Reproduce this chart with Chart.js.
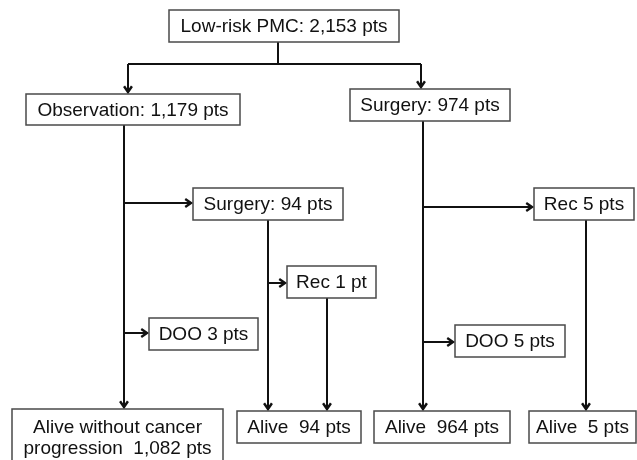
<!DOCTYPE html>
<html>
<head>
<meta charset="utf-8">
<script src="https://cdn.jsdelivr.net/npm/chart.js@4/dist/chart.umd.min.js"></script>
<style>
html,body{margin:0;padding:0;background:#fff;}
#c{display:block;}
</style>
</head>
<body>
<canvas id="c" width="637" height="460"></canvas>
<script>
// ---- data ----
const nodeLabels = [
  ['Low-risk PMC: 2,153 pts'],
  ['Observation: 1,179 pts'],
  ['Surgery: 974 pts'],
  ['Surgery: 94 pts'],
  ['Rec 5 pts'],
  ['Rec 1 pt'],
  ['DOO 3 pts'],
  ['DOO 5 pts'],
  ['Alive without cancer', 'progression  1,082 pts'],
  ['Alive  94 pts'],
  ['Alive  964 pts'],
  ['Alive  5 pts']
];
const nodeCounts = [2153, 1179, 974, 94, 5, 1, 3, 5, 1082, 94, 964, 5];

// ---- layout (in scale units of a hidden 0..637 x 0..460 plane) ----
const boxX1 = [169, 26, 350, 193, 534, 287, 149, 455, 12, 237, 374, 529];
const boxY1 = [10, 94, 89, 188, 188, 266, 318, 325, 409, 411, 411, 411];
const boxX2 = [399, 240, 510, 343, 634, 376, 258, 565, 223, 361, 510, 636];
const boxY2 = [42, 125, 121, 220, 220, 298, 350, 357, 470, 443, 443, 443];

// connectors: [x1,y1,x2,y2,arrow]
const links = [
  [278, 42, 278, 64, 0],
  [128, 64, 421, 64, 0],
  [128, 64, 128, 92, 1],
  [421, 64, 421, 87, 1],
  [124, 125, 124, 407, 1],
  [124, 203, 191, 203, 1],
  [124, 333, 147, 333, 1],
  [268, 220, 268, 409, 1],
  [268, 283, 285, 283, 1],
  [327, 298, 327, 409, 1],
  [423, 121, 423, 409, 1],
  [423, 207, 532, 207, 1],
  [423, 342, 453, 342, 1],
  [586, 220, 586, 409, 1]
];

const flowPlugin = {
  id: 'flow',
  afterDatasetsDraw(chart) {
    const ctx = chart.ctx;
    const xs = chart.scales.x, ys = chart.scales.y;
    const px = v => xs.getPixelForValue(v);
    const py = v => ys.getPixelForValue(v);
    ctx.save();
    // connectors
    ctx.strokeStyle = '#111111';
    ctx.lineCap = 'butt';
    ctx.lineJoin = 'miter';
    links.forEach(l => {
      const x1 = px(l[0]), y1 = py(l[1]), x2 = px(l[2]), y2 = py(l[3]);
      ctx.lineWidth = 2;
      ctx.beginPath();
      ctx.moveTo(x1, y1);
      ctx.lineTo(x2, y2);
      ctx.stroke();
      if (l[4]) {
        const a = Math.atan2(y2 - y1, x2 - x1);
        const s = 7, w = 0.6;
        ctx.lineWidth = 2.4;
        ctx.beginPath();
        ctx.moveTo(x2 - s * Math.cos(a - w), y2 - s * Math.sin(a - w));
        ctx.lineTo(x2, y2);
        ctx.lineTo(x2 - s * Math.cos(a + w), y2 - s * Math.sin(a + w));
        ctx.stroke();
      }
    });
    // boxes
    ctx.font = '19px "Liberation Sans", Arial, sans-serif';
    ctx.textAlign = 'center';
    ctx.textBaseline = 'middle';
    nodeLabels.forEach((lines, i) => {
      const x1 = px(boxX1[i]), y1 = py(boxY1[i]), x2 = px(boxX2[i]), y2 = py(boxY2[i]);
      ctx.fillStyle = '#ffffff';
      ctx.fillRect(x1, y1, x2 - x1, y2 - y1);
      ctx.strokeStyle = '#4a4a4a';
      ctx.lineWidth = 1.5;
      ctx.strokeRect(x1, y1, x2 - x1, y2 - y1);
      ctx.fillStyle = '#111111';
      const cx = (x1 + x2) / 2;
      if (lines.length === 1) {
        ctx.fillText(lines[0], cx, (y1 + y2) / 2 + 1);
      } else {
        const top = y1 + 19;
        lines.forEach((t, k) => ctx.fillText(t, cx, top + k * 21));
      }
    });
    ctx.restore();
  }
};

new Chart(document.getElementById('c'), {
  type: 'scatter',
  data: {
    datasets: [{
      label: 'nodes',
      data: nodeCounts.map((n, i) => ({ x: (boxX1[i] + boxX2[i]) / 2, y: (boxY1[i] + boxY2[i]) / 2, n })),
      pointRadius: 0,
      pointHoverRadius: 0
    }]
  },
  options: {
    responsive: false,
    animation: false,
    layout: { padding: 0 },
    plugins: { legend: { display: false }, tooltip: { enabled: false } },
    scales: {
      x: { type: 'linear', min: 0, max: 637, display: false },
      y: { type: 'linear', min: 0, max: 460, reverse: true, display: false }
    }
  },
  plugins: [flowPlugin]
});
</script>
</body>
</html>
